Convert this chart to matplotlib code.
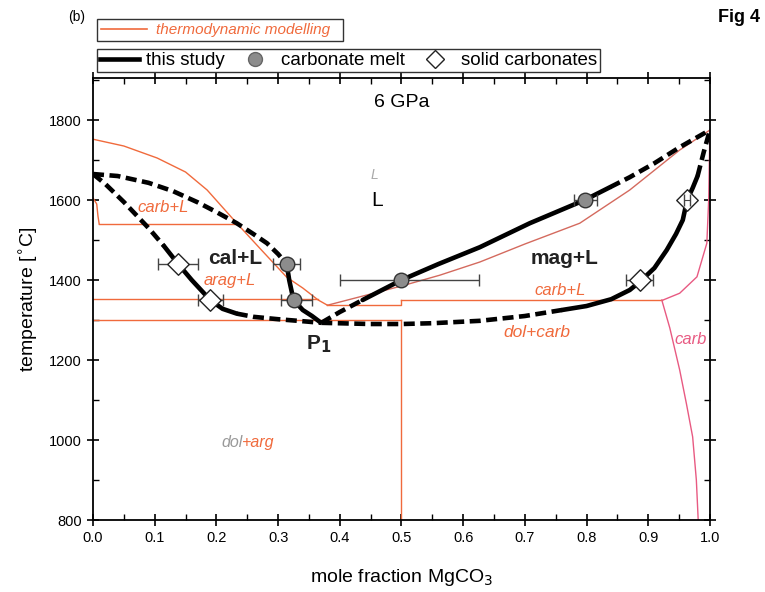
import numpy as np
import matplotlib.pyplot as plt
from matplotlib.lines import Line2D
from matplotlib.ticker import MultipleLocator

plt.rcParams['font.family'] = ['Liberation Sans', 'DejaVu Sans']

ORANGE = '#f06a3c'
PINK = '#e85a82'
BROWN = '#d46a5e'

# ---- this study: phase boundaries (x = mole fraction MgCO3, T in deg C)
liq_left_dash_x = [0.0, 0.04, 0.09, 0.13, 0.17, 0.2, 0.233, 0.26, 0.282, 0.3, 0.314]
liq_left_dash_t = [1665, 1660, 1643, 1622, 1594, 1570, 1542, 1515, 1492, 1465, 1440]
liq_left_solid_x = [0.314, 0.318, 0.325, 0.34, 0.355, 0.368]
liq_left_solid_t = [1440, 1400, 1350, 1325, 1310, 1295]

sol_left_dash1_x = [0.0, 0.02, 0.05, 0.09, 0.115]
sol_left_dash1_t = [1665, 1640, 1595, 1530, 1485]
sol_left_solid_x = [0.115, 0.138, 0.16, 0.19, 0.21, 0.233]
sol_left_solid_t = [1485, 1440, 1400, 1350, 1328, 1316]
sol_left_dash2_x = [0.233, 0.26, 0.3, 0.34, 0.37]
sol_left_dash2_t = [1316, 1308, 1302, 1297, 1293]

sol_right_dash_x = [0.37, 0.45, 0.5, 0.55, 0.627, 0.7, 0.76]
sol_right_dash_t = [1293, 1290, 1290, 1292, 1298, 1310, 1325]
sol_right_solid_x = [0.76, 0.8, 0.84, 0.87, 0.886, 0.91, 0.93, 0.945, 0.956, 0.963, 0.972, 0.98]
sol_right_solid_t = [1325, 1335, 1352, 1375, 1395, 1430, 1475, 1515, 1550, 1600, 1630, 1660]
sol_right_dash2_x = [0.98, 0.99, 1.0]
sol_right_dash2_t = [1660, 1720, 1775]

liq_right_dash1_x = [0.37, 0.4, 0.437]
liq_right_dash1_t = [1293, 1320, 1350]
liq_right_solid_x = [0.437, 0.5, 0.56, 0.627, 0.708, 0.797, 0.838]
liq_right_solid_t = [1350, 1400, 1440, 1482, 1542, 1600, 1632]
liq_right_dash2_x = [0.838, 0.87, 0.91, 0.951, 1.0]
liq_right_dash2_t = [1632, 1657, 1692, 1732, 1775]

# experimental points
melt_x = [0.314, 0.325, 0.5, 0.797]
melt_t = [1440, 1350, 1400, 1600]
melt_xerr = [[0.022, 0.02, 0.10, 0.018], [0.022, 0.03, 0.125, 0.02]]
solid_x = [0.138, 0.19, 0.886, 0.963]
solid_t = [1440, 1350, 1400, 1600]
solid_xerr = [0.032, 0.02, 0.022, 0.005]

# ---- thermodynamic modelling
tm_liq_x = [0.0, 0.05, 0.104, 0.15, 0.185, 0.233, 0.27, 0.314, 0.34, 0.365, 0.38]
tm_liq_t = [1752, 1735, 1705, 1670, 1625, 1542, 1480, 1407, 1380, 1350, 1337]
tm_liq2_x = [0.38, 0.45, 0.5, 0.562, 0.627, 0.7, 0.789, 0.87, 0.951, 1.0]
tm_liq2_t = [1337, 1365, 1385, 1412, 1445, 1490, 1542, 1625, 1725, 1775]
tm_cc_x = [0.0, 0.006, 0.008, 0.01]
tm_cc_t = [1605, 1590, 1560, 1540]
tm_mag_x = [1.0, 0.998, 0.995, 0.979, 0.951, 0.924]
tm_mag_t = [1775, 1600, 1492, 1408, 1367, 1350]
tm_solvus_x = [0.922, 0.935, 0.951, 0.962, 0.972, 0.978, 0.981]
tm_solvus_t = [1350, 1280, 1175, 1090, 1008, 900, 800]
tm_step_x = [0.38, 0.5, 0.5]
tm_step_t = [1337, 1337, 1350]

fig = plt.figure(figsize=(7.65, 5.92), dpi=100)
ax = fig.add_axes([0.1216, 0.1216, 0.8064, 0.7466])

# modelling lines
lw_tm = 1.0
ax.plot(tm_liq_x, tm_liq_t, color=ORANGE, lw=lw_tm)
ax.plot(tm_liq2_x, tm_liq2_t, color=BROWN, lw=lw_tm)
ax.plot(tm_cc_x, tm_cc_t, color=ORANGE, lw=lw_tm)
ax.plot(tm_step_x, tm_step_t, color=ORANGE, lw=lw_tm)
ax.plot([0.01, 0.233], [1540, 1540], color=ORANGE, lw=lw_tm)
ax.plot([0.0, 0.365], [1352, 1352], color=ORANGE, lw=lw_tm)
ax.plot([0.5, 0.922], [1350, 1350], color=ORANGE, lw=lw_tm)
ax.plot([0.0, 0.5], [1300, 1300], color=ORANGE, lw=lw_tm)
ax.plot([0.5, 0.5], [1300, 800], color=ORANGE, lw=lw_tm)
ax.plot(tm_mag_x, tm_mag_t, color=PINK, lw=lw_tm)
ax.plot(tm_solvus_x, tm_solvus_t, color=PINK, lw=lw_tm)

# this study
lw = 3.3
dash = dict(color='black', lw=lw, ls=(0, (2.4, 1.2)))
solid = dict(color='black', lw=lw, solid_capstyle='round', solid_joinstyle='round')
ax.plot(liq_left_dash_x, liq_left_dash_t, **dash)
ax.plot(liq_left_solid_x, liq_left_solid_t, **solid)
ax.plot(sol_left_dash1_x, sol_left_dash1_t, **dash)
ax.plot(sol_left_solid_x, sol_left_solid_t, **solid)
ax.plot(sol_left_dash2_x, sol_left_dash2_t, **dash)
ax.plot(sol_right_dash_x, sol_right_dash_t, **dash)
ax.plot(sol_right_solid_x, sol_right_solid_t, **solid)
ax.plot(sol_right_dash2_x, sol_right_dash2_t, **dash)
ax.plot(liq_right_dash1_x, liq_right_dash1_t, **dash)
ax.plot(liq_right_solid_x, liq_right_solid_t, **solid)
ax.plot(liq_right_dash2_x, liq_right_dash2_t, **dash)

ax.errorbar(melt_x, melt_t, xerr=melt_xerr, fmt='none', ecolor='#444444',
            elinewidth=1.0, capsize=4, zorder=4)
ax.errorbar(solid_x, solid_t, xerr=solid_xerr, fmt='none', ecolor='#444444',
            elinewidth=1.0, capsize=4, zorder=4)
ax.scatter(melt_x, melt_t, s=110, marker='o', facecolor='#8c8c8c',
           edgecolor='#333333', linewidth=1.0, zorder=5)
ax.scatter(solid_x, solid_t, s=120, marker='D', facecolor='white',
           edgecolor='#222222', linewidth=1.0, zorder=5)
ax.errorbar([solid_x[3]], [solid_t[3]], xerr=[solid_xerr[3]], fmt='none',
            ecolor='#444444', elinewidth=0.8, capsize=4, zorder=6)

# field labels
ax.text(0.5, 1845, '6 GPa', ha='center', va='center', fontsize=14)
ax.text(0.457, 1662, 'L', ha='center', va='center', fontsize=10,
        style='italic', color='#aaaaaa')
ax.text(0.461, 1600, 'L', ha='center', va='center', fontsize=15)
ax.text(0.113, 1582, 'carb+L', ha='center', va='center', fontsize=12,
        style='italic', color=ORANGE)
ax.text(0.23, 1455, 'cal+L', ha='center', va='center', fontsize=15,
        fontweight='bold', color='#222222')
ax.text(0.222, 1398, 'arag+L', ha='center', va='center', fontsize=12,
        style='italic', color=ORANGE)
ax.text(0.765, 1455, 'mag+L', ha='center', va='center', fontsize=15,
        fontweight='bold', color='#222222')
ax.text(0.757, 1374, 'carb+L', ha='center', va='center', fontsize=12,
        style='italic', color=ORANGE)
ax.text(0.72, 1268, 'dol+carb', ha='center', va='center', fontsize=12.5,
        style='italic', color=ORANGE)
ax.text(0.968, 1252, 'carb', ha='center', va='center', fontsize=12,
        style='italic', color=PINK)
ax.text(0.242, 995, 'dol', ha='right', va='center', fontsize=11.5,
        style='italic', color='#999999')
ax.text(0.242, 995, '+arg', ha='left', va='center', fontsize=11.5,
        style='italic', color=ORANGE)
ax.text(0.366, 1240, r'P$_\mathbf{1}$', ha='center', va='center',
        fontsize=15, fontweight='bold', color='#222222')

ax.set_xlim(0.0, 1.0)
ax.set_ylim(800, 1905)
ax.xaxis.set_major_locator(MultipleLocator(0.1))
ax.xaxis.set_minor_locator(MultipleLocator(0.05))
ax.yaxis.set_major_locator(MultipleLocator(200))
ax.yaxis.set_minor_locator(MultipleLocator(100))
ax.set_yticks([800, 1000, 1200, 1400, 1600, 1800])
ax.tick_params(which='major', direction='inout', length=9, width=1.2,
               top=True, right=True, labelsize=10.5)
ax.tick_params(which='minor', direction='in', length=4, width=1.0,
               top=True, right=True)
for s in ax.spines.values():
    s.set_linewidth(1.3)
ax.set_xlabel(r'mole fraction MgCO$_3$', fontsize=14, labelpad=16)
ax.set_ylabel('temperature [$^{\\circ}$C]', fontsize=14, labelpad=6)

# legend boxes above the plot
h_tm = [Line2D([0], [0], color=ORANGE, lw=1.2)]
leg1 = ax.legend(h_tm, ['thermodynamic modelling'], loc='lower left',
                 bbox_to_anchor=(97 / 765, 1 - 41 / 592, 246 / 765, 24 / 592),
                 bbox_transform=fig.transFigure, mode='expand', borderaxespad=0,
                 fancybox=False, edgecolor='#333333', framealpha=1,
                 handlelength=3.0, fontsize=11, borderpad=0.25,
                 handletextpad=0.6)
leg1.get_frame().set_linewidth(1.0)
for t in leg1.get_texts():
    t.set_color(ORANGE)
    t.set_style('italic')
ax.add_artist(leg1)

h_study = [Line2D([0], [0], color='black', lw=3.3),
           Line2D([0], [0], ls='none', marker='o', ms=10, mfc='#8c8c8c', mec='#666666'),
           Line2D([0], [0], ls='none', marker='D', ms=9, mfc='white', mec='#222222')]
leg2 = ax.legend(h_study, ['this study', 'carbonate melt', 'solid carbonates'],
                 loc='lower left', ncol=3,
                 bbox_to_anchor=(97 / 765, 1 - 72 / 592),
                 bbox_transform=fig.transFigure, borderaxespad=0,
                 fancybox=False, edgecolor='#333333', framealpha=1,
                 handlelength=2.1, fontsize=13.5, borderpad=0.15, columnspacing=0.55,
                 handletextpad=0.35)
leg2.get_frame().set_linewidth(1.0)

fig.text(68 / 765, 1 - 17 / 592, '(b)', ha='left', va='center', fontsize=10)
fig.text(739 / 765, 1 - 17 / 592, 'Fig 4', ha='center', va='center',
         fontsize=13, fontweight='bold')

fig.savefig('out.png', dpi=100)
